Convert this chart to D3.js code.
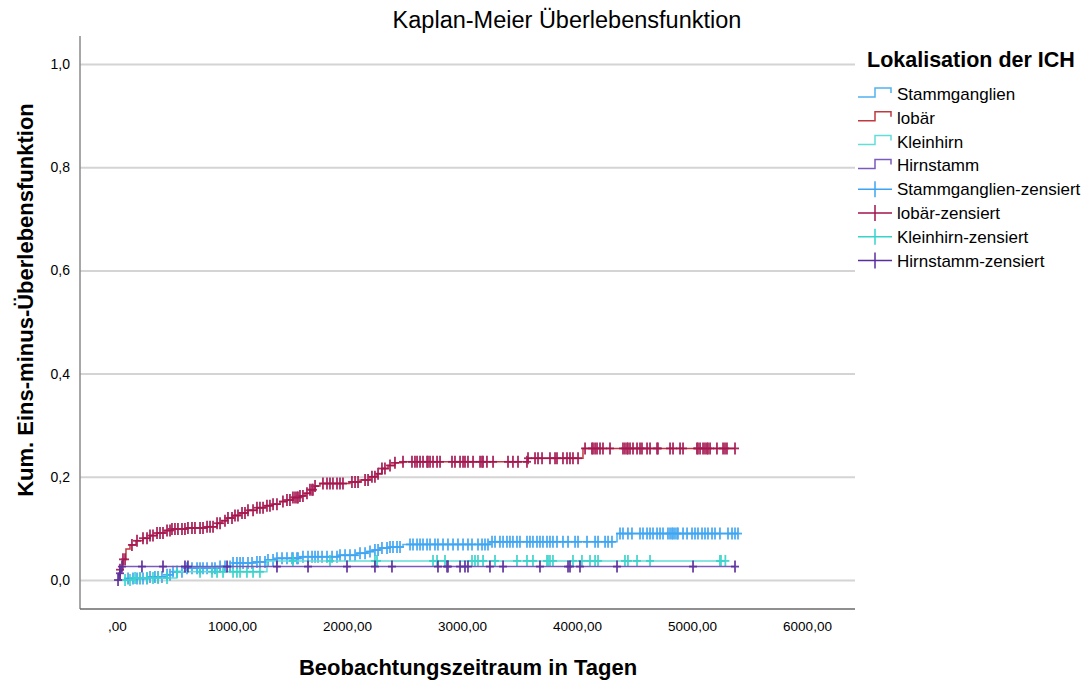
<!DOCTYPE html>
<html>
<head>
<meta charset="utf-8">
<script src="https://cdn.jsdelivr.net/npm/d3@7"></script>
<style>
  body { margin: 0; background: #fff; }
  text { font-family: "Liberation Sans", Arial, sans-serif; fill: #000; }
</style>
</head>
<body>
<div id="chart"></div>
<script>
// Groups (Lokalisation der ICH)
const groups = ["Stammganglien", "lobär", "Kleinhirn", "Hirnstamm"];
const lineColors = ["#52b2ee", "#c0393f", "#62ddd8", "#7b5abd"];
const markColors = ["#3ca4f2", "#a3134f", "#36d3cb", "#5a2c9c"];

// Step points: event times (days) and cumulative 1 - S(t)
const stammTimes = [0, 70, 287, 435, 487, 609, 896, 1009, 1183, 1304, 1391, 1591, 1939, 2087, 2174, 2226, 2287, 2374, 2487, 3243, 4348];
const stammValues = [0, 0.003, 0.006, 0.010, 0.016, 0.023, 0.026, 0.033, 0.035, 0.039, 0.042, 0.045, 0.048, 0.052, 0.055, 0.058, 0.062, 0.064, 0.069, 0.074, 0.090];
const lobarTimes = [0, 26, 52, 78, 113, 165, 226, 287, 348, 417, 478, 609, 783, 870, 913, 957, 1009, 1070, 1139, 1217, 1287, 1357, 1417, 1478, 1530, 1591, 1635, 1678, 1722, 1765, 2026, 2113, 2200, 2261, 2304, 2357, 2417, 2487, 3574, 4052];
const lobarValues = [0, 0.020, 0.040, 0.060, 0.068, 0.076, 0.081, 0.086, 0.091, 0.096, 0.099, 0.101, 0.103, 0.110, 0.115, 0.120, 0.125, 0.130, 0.135, 0.140, 0.144, 0.147, 0.152, 0.155, 0.160, 0.163, 0.168, 0.175, 0.182, 0.187, 0.190, 0.194, 0.200, 0.206, 0.216, 0.222, 0.227, 0.229, 0.236, 0.255];
const kleinTimes = [0, 150, 520, 1304];
const kleinValues = [0, 0.004, 0.016, 0.037];
const hirnTimes = [0, 15, 35];
const hirnValues = [0, 0.013, 0.026];

// Censored observations (days)
const stammCensored = [96, 139, 174, 200, 226, 261, 287, 330, 357, 391, 435, 461, 487, 522, 565, 609, 652, 696, 722, 748, 783, 826, 852, 896, 939, 983, 1009, 1043, 1070, 1096, 1139, 1174, 1217, 1243, 1287, 1313, 1357, 1391, 1435, 1478, 1522, 1530, 1565, 1574, 1617, 1661, 1696, 1722, 1748, 1783, 1826, 1870, 1913, 1939, 1983, 2026, 2070, 2113, 2157, 2200, 2243, 2270, 2304, 2348, 2374, 2400, 2435, 2461, 2548, 2574, 2609, 2635, 2661, 2696, 2722, 2765, 2791, 2835, 2878, 2922, 2965, 3009, 3052, 3087, 3139, 3174, 3200, 3226, 3261, 3287, 3330, 3357, 3391, 3417, 3443, 3478, 3504, 3565, 3591, 3617, 3652, 3678, 3704, 3739, 3765, 3791, 3826, 3878, 3922, 3983, 4009, 4087, 4157, 4183, 4244, 4270, 4304, 4374, 4400, 4443, 4478, 4548, 4574, 4609, 4635, 4661, 4696, 4722, 4748, 4791, 4809, 4826, 4835, 4852, 4870, 4878, 4922, 4957, 5000, 5026, 5052, 5087, 5113, 5139, 5174, 5200, 5243, 5313, 5348, 5374, 5400];
const lobarCensored = [26, 52, 70, 130, 174, 226, 261, 287, 313, 348, 374, 400, 435, 461, 478, 504, 530, 565, 591, 617, 652, 678, 722, 748, 783, 809, 835, 870, 896, 939, 965, 1000, 1026, 1052, 1087, 1113, 1139, 1183, 1217, 1243, 1270, 1304, 1330, 1357, 1391, 1443, 1478, 1504, 1530, 1548, 1565, 1574, 1591, 1617, 1652, 1678, 1696, 1704, 1722, 1791, 1826, 1852, 1878, 1913, 1939, 1965, 2043, 2070, 2096, 2157, 2183, 2217, 2243, 2270, 2304, 2330, 2374, 2417, 2487, 2565, 2591, 2609, 2635, 2661, 2696, 2704, 2722, 2748, 2783, 2809, 2913, 2939, 2983, 3009, 3026, 3052, 3096, 3157, 3174, 3183, 3217, 3270, 3400, 3443, 3487, 3565, 3574, 3635, 3661, 3696, 3765, 3809, 3826, 3878, 3913, 3939, 3965, 4009, 4070, 4130, 4139, 4157, 4174, 4200, 4226, 4287, 4400, 4417, 4435, 4443, 4461, 4487, 4522, 4548, 4565, 4609, 4635, 4696, 4704, 4809, 4835, 4896, 4922, 5043, 5052, 5070, 5096, 5113, 5130, 5139, 5157, 5217, 5270, 5287, 5304, 5374];
const kleinCensored = [70, 113, 157, 200, 261, 313, 357, 435, 522, 722, 826, 870, 922, 1009, 1043, 1070, 1130, 1183, 1243, 1530, 1852, 2243, 2261, 2748, 2783, 2852, 3087, 3113, 3139, 3183, 3287, 3478, 3565, 3617, 3739, 3748, 3765, 3791, 3965, 4043, 4113, 4157, 4183, 4417, 4443, 4522, 4635, 5243, 5252, 5290];
const hirnCensored = [9, 26, 43, 217, 400, 591, 617, 957, 1391, 1661, 2000, 2243, 2391, 2791, 2870, 2878, 2983, 3026, 3052, 3243, 3357, 3678, 3922, 3939, 4026, 4348, 5009, 5374];

const xTicks = [0, 1000, 2000, 3000, 4000, 5000, 6000];
const yTicks = [0, 0.2, 0.4, 0.6, 0.8, 1.0];

const series = [
  { times: stammTimes, values: stammValues, censored: stammCensored },
  { times: lobarTimes, values: lobarValues, censored: lobarCensored },
  { times: kleinTimes, values: kleinValues, censored: kleinCensored },
  { times: hirnTimes, values: hirnValues, censored: hirnCensored }
];

const W = 1092, H = 684;
const svg = d3.select("#chart").append("svg")
    .attr("width", W)
    .attr("height", H);

const x = d3.scaleLinear().domain([0, 6000]).range([117, 807]);
const y = d3.scaleLinear().domain([0, 1]).range([580, 64]);
const frame = { left: 80, right: 855, top: 36, bottom: 609 };

const deComma = s => s.replace(".", ",");

// Gridlines
svg.append("g")
    .attr("transform", `translate(${frame.left},0)`)
    .call(d3.axisLeft(y).tickValues(yTicks).tickSize(-(frame.right - frame.left)).tickFormat(""))
    .call(g => g.select(".domain").remove())
    .call(g => g.selectAll("line").attr("stroke", "#d4d4d4").attr("stroke-width", 2));

// Y tick labels
svg.append("g")
    .attr("transform", `translate(${frame.left},0)`)
    .call(d3.axisLeft(y).tickValues(yTicks).tickSize(0).tickPadding(10)
        .tickFormat(d => deComma(d3.format(".1f")(d))))
    .call(g => g.select(".domain").remove())
    .call(g => g.selectAll("text").style("font-size", "14px").attr("fill", "#222"));

// X tick labels
svg.append("g")
    .attr("transform", `translate(0,${frame.bottom})`)
    .call(d3.axisBottom(x).tickValues(xTicks).tickSize(0).tickPadding(12)
        .tickFormat(d => d === 0 ? ",00" : deComma(d3.format(".2f")(d))))
    .call(g => g.select(".domain").remove())
    .call(g => g.selectAll("text").style("font-size", "13.5px").attr("fill", "#222"));

// Axis frame lines
svg.append("line")
    .attr("x1", frame.left).attr("x2", frame.left)
    .attr("y1", frame.top).attr("y2", frame.bottom)
    .attr("stroke", "#8a8a8a").attr("stroke-width", 1.5);
svg.append("line")
    .attr("x1", frame.left).attr("x2", frame.right)
    .attr("y1", frame.bottom).attr("y2", frame.bottom)
    .attr("stroke", "#6a6a6a").attr("stroke-width", 1.5);

// Step value at time t
function valueAt(s, t) {
  let v = s.values[0];
  for (let i = 0; i < s.times.length; i++) {
    if (s.times[i] <= t) v = s.values[i];
  }
  return v;
}

const line = d3.line()
    .x(d => x(d[0]))
    .y(d => y(d[1]))
    .curve(d3.curveStepAfter);

series.forEach((s, i) => {
  const endTime = Math.max(d3.max(s.censored), d3.max(s.times));
  const pts = s.times.map((t, j) => [t, s.values[j]]);
  pts.push([endTime, valueAt(s, endTime)]);

  svg.append("path")
      .datum(pts)
      .attr("fill", "none")
      .attr("stroke", lineColors[i])
      .attr("stroke-width", 1.5)
      .attr("d", line);

  const marks = svg.append("g").attr("stroke", markColors[i]).attr("stroke-width", 1.8).attr("opacity", 0.9);
  s.censored.forEach(t => {
    const cx = x(t), cy = y(valueAt(s, t));
    marks.append("line").attr("x1", cx).attr("x2", cx).attr("y1", cy - 6).attr("y2", cy + 6);
    marks.append("line").attr("x1", cx - 4).attr("x2", cx + 4).attr("y1", cy).attr("y2", cy);
  });
});

// Titles
svg.append("text")
    .attr("x", 567).attr("y", 28)
    .attr("text-anchor", "middle")
    .style("font-size", "23.5px")
    .text("Kaplan-Meier Überlebensfunktion");

svg.append("text")
    .attr("x", 468).attr("y", 675)
    .attr("text-anchor", "middle")
    .style("font-size", "22px").style("font-weight", "bold")
    .text("Beobachtungszeitraum in Tagen");

svg.append("text")
    .attr("transform", "translate(33,300) rotate(-90)")
    .attr("text-anchor", "middle")
    .style("font-size", "22px").style("font-weight", "bold")
    .text("Kum. Eins-minus-Überlebensfunktion");

// Legend
const legend = svg.append("g");
legend.append("text")
    .attr("x", 867).attr("y", 67)
    .style("font-size", "21.5px").style("font-weight", "bold")
    .text("Lokalisation der ICH");

const legendItems = groups.map((g, i) => ({ label: g, color: lineColors[i], type: "step" }))
  .concat(groups.map((g, i) => ({ label: g + "-zensiert", color: markColors[i], type: "cens" })));

legendItems.forEach((d, i) => {
  const cy = 94 + i * 23.8;
  if (d.type === "step") {
    legend.append("path")
        .attr("d", `M858,${cy + 3}H875V${cy - 6}H891V${cy - 1}`)
        .attr("fill", "none").attr("stroke", d.color).attr("stroke-width", 1.5);
  } else {
    legend.append("line").attr("x1", 858).attr("x2", 892).attr("y1", cy).attr("y2", cy)
        .attr("stroke", d.color).attr("stroke-width", 1.5);
    legend.append("line").attr("x1", 875).attr("x2", 875).attr("y1", cy - 8).attr("y2", cy + 8)
        .attr("stroke", d.color).attr("stroke-width", 1.5);
  }
  legend.append("text")
      .attr("x", 897).attr("y", cy + 6)
      .style("font-size", "17px")
      .attr("fill", "#222")
      .text(d.label);
});
</script>
</body>
</html>
